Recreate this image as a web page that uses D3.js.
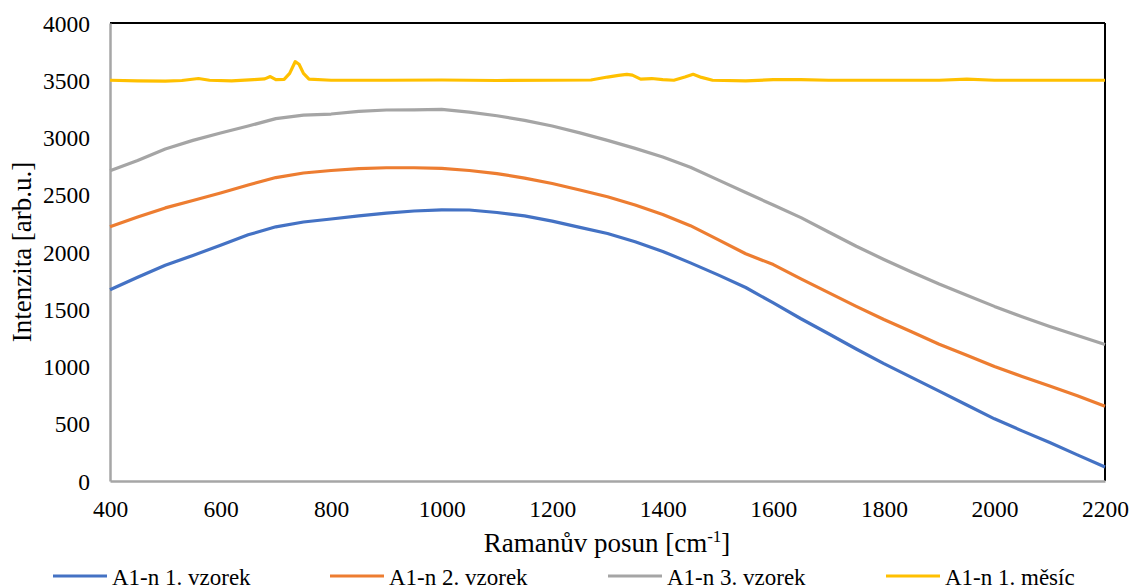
<!DOCTYPE html>
<html>
<head>
<meta charset="utf-8">
<script src="https://cdn.jsdelivr.net/npm/d3@7"></script>
<style>
  body { margin: 0; background: #fff; }
</style>
</head>
<body>
<svg id="chart" width="1130" height="586"></svg>
<script>
// raman shift grid for the three broad spectra
var shift = [400,450,500,550,600,650,700,750,800,850,900,950,1000,1050,1100,1150,1200,1250,1300,
  1350,1400,1450,1500,1550,1600,1650,1700,1750,1800,1850,1900,1950,2000,2050,2100,2150,2200];

var vzorek1 = [1670,1780,1885,1970,2060,2150,2220,2262,2288,2315,2340,2358,2368,2367,2345,2315,2270,2215,2162,
  2090,2005,1905,1800,1690,1555,1417,1286,1153,1025,905,785,664,543,438,336,228,122];
var vzorek2 = [2220,2305,2385,2450,2515,2585,2650,2690,2712,2728,2736,2736,2730,2712,2685,2645,2598,2542,2482,
  2410,2328,2230,2108,1985,1890,1765,1645,1525,1410,1303,1195,1098,1000,913,830,745,652];
var vzorek3 = [2710,2800,2900,2975,3040,3100,3165,3195,3205,3228,3240,3242,3245,3222,3190,3150,3100,3040,2975,
  2905,2830,2740,2630,2520,2410,2300,2175,2050,1935,1825,1720,1622,1525,1435,1350,1270,1192];

// one month sample has its own points (peaks)
var mesicShift = [400,450,500,530,560,580,620,660,680,690,700,715,725,735,742,750,760,800,900,1000,1100,1200,
  1270,1300,1320,1335,1345,1360,1380,1400,1420,1440,1455,1470,1490,1550,1600,1650,1700,1800,1900,1950,2000,2100,2200];
var mesic = [3500,3495,3492,3498,3515,3500,3495,3505,3512,3532,3505,3508,3560,3662,3640,3560,3510,3500,3500,3502,3498,3500,
  3502,3528,3542,3552,3545,3510,3515,3505,3500,3528,3552,3525,3500,3495,3505,3505,3500,3500,3500,3510,3500,3500,3500];

var seriesNames = ["A1-n 1. vzorek", "A1-n 2. vzorek", "A1-n 3. vzorek", "A1-n 1. měsíc"];
var colors = ["#4472c4", "#ed7d31", "#a5a5a5", "#ffc000"];
var xTicks = [400,600,800,1000,1200,1400,1600,1800,2000,2200];
var yTicks = [0,500,1000,1500,2000,2500,3000,3500,4000];

var serifFont = "'Liberation Serif'";

var svg = d3.select("#chart");
var plotL = 110, plotR = 1105, plotT = 23, plotB = 481;

var x = d3.scaleLinear().domain([400, 2200]).range([plotL, plotR]);
var y = d3.scaleLinear().domain([0, 4000]).range([plotB, plotT]);

// frame: top + right black, left + bottom gray
svg.append("line").attr("x1", plotL).attr("x2", plotR).attr("y1", plotT).attr("y2", plotT)
  .attr("stroke", "#000").attr("stroke-width", 2);
svg.append("line").attr("x1", plotR).attr("x2", plotR).attr("y1", plotT).attr("y2", plotB)
  .attr("stroke", "#000").attr("stroke-width", 2);

var xAxis = svg.append("g").attr("transform", "translate(0," + plotB + ")")
  .call(d3.axisBottom(x).tickValues(xTicks).tickSize(0).tickPadding(19).tickFormat(d3.format("d")));
var yAxis = svg.append("g").attr("transform", "translate(" + plotL + ",0)")
  .call(d3.axisLeft(y).tickValues(yTicks).tickSize(0).tickPadding(20).tickFormat(d3.format("d")));

[xAxis, yAxis].forEach(function(a) {
  a.select(".domain").attr("stroke", "#a6a6a6").attr("stroke-width", 2.5);
  a.selectAll("text")
    .style("font-family", serifFont)
    .style("font-size", "23.5px")
    .attr("fill", "#000");
});
yAxis.selectAll("text").attr("dy", "0.35em");

var line = d3.line()
  .x(function(d) { return x(d[0]); })
  .y(function(d) { return y(d[1]); });

var all = [
  d3.zip(shift, vzorek1),
  d3.zip(shift, vzorek2),
  d3.zip(shift, vzorek3),
  d3.zip(mesicShift, mesic)
];

svg.append("g").selectAll("path")
  .data(all)
  .enter()
  .append("path")
  .attr("d", line)
  .attr("fill", "none")
  .attr("stroke", function(d, i) { return colors[i]; })
  .attr("stroke-width", 3.2)
  .attr("stroke-linejoin", "round");

// axis titles
var xt = svg.append("text").attr("x", 607).attr("y", 552).attr("text-anchor", "middle")
  .style("font-family", serifFont).style("font-size", "27px").text("Ramanův posun [cm");
xt.append("tspan").attr("dy", -10).style("font-size", "17px").text("-1");
xt.append("tspan").attr("dy", 10).text("]");

svg.append("text").attr("transform", "translate(31,252) rotate(-90)")
  .style("font-family", serifFont)
  .attr("text-anchor", "middle").style("font-size", "27px").text("Intenzita [arb.u.]");

// legend along the bottom
var legendX = [53, 330, 608, 886];
var lg = svg.append("g").selectAll("g")
  .data(seriesNames)
  .enter()
  .append("g")
  .attr("transform", function(d, i) { return "translate(" + legendX[i] + ",576)"; });
lg.append("line").attr("x1", 0).attr("x2", 54).attr("y1", 0).attr("y2", 0)
  .attr("stroke", function(d, i) { return colors[i]; }).attr("stroke-width", 3.2);
lg.append("text").attr("x", 59).attr("y", 9)
  .style("font-family", serifFont).style("font-size", "23px")
  .text(function(d) { return d; });
</script>
</body>
</html>
